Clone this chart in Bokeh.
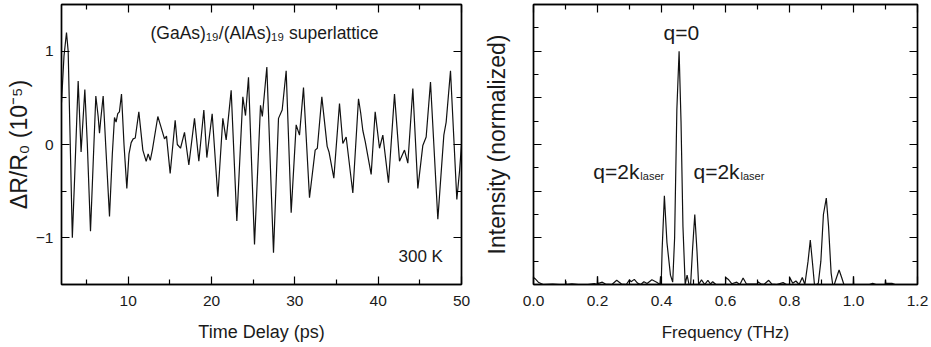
from bokeh.plotting import figure
from bokeh.models import Range1d, LinearAxis, FixedTicker, Label, CustomLabelingPolicy
from bokeh.layouts import row
from bokeh.embed import file_html
from bokeh.resources import INLINE

# ---------------- data ----------------
time_ps = [2.0, 2.3, 2.6, 2.8, 3.0, 3.3, 3.6, 4.0, 4.35, 4.8, 5.1, 5.48, 5.8, 6.12, 6.4,
           6.56, 6.7, 7.0, 7.3, 7.76, 8.1, 8.36, 8.55, 8.75, 8.95, 9.2, 9.5, 9.84, 10.1,
           10.36, 10.6, 10.85, 11.28, 11.76, 12.16, 12.4, 12.65, 12.9, 13.56, 13.9, 14.36,
           14.6, 15.04, 15.64, 15.9, 16.28, 16.76, 17.28, 17.96, 18.48, 19.08, 19.44, 20.08,
           20.76, 21.36, 21.76, 22.36, 23.04, 23.76, 24.08, 24.44, 25.16, 25.88, 26.1, 26.64,
           27.44, 28.04, 28.48, 28.96, 29.56, 30.16, 30.56, 31.04, 31.76, 32.44, 32.7, 33.24,
           33.88, 34.1, 34.68, 35.36, 35.76, 36.16, 36.96, 37.64, 37.9, 38.16, 38.45, 39.16,
           39.64, 40.16, 40.56, 41.24, 41.96, 42.56, 43.16, 43.56, 44.16, 44.76, 45.36, 45.76,
           46.28, 47.16, 47.88, 48.16, 48.68, 49.44, 49.76, 50.0]
dr_r = [0.45, 0.95, 1.2, 1.0, 0.2, -1.0, -0.3, 0.68, -0.08, 0.59, 0.0, -0.93, -0.2, 0.52, 0.3,
        0.12, 0.26, 0.52, 0.0, -0.77, -0.1, 0.29, 0.24, 0.33, 0.35, 0.54, 0.0, -0.47, -0.1,
        0.02, 0.06, 0.07, 0.35, -0.06, -0.18, -0.1, -0.17, -0.06, 0.3, 0.2, 0.06,
        0.09, -0.31, 0.26, 0.0, -0.04, 0.13, -0.22, 0.28, -0.18, 0.37, -0.14, 0.33,
        -0.56, 0.28, 0.05, 0.58, -0.82, 0.51, 0.31, 0.72, -1.07, 0.42, 0.3, 0.83,
        -1.16, 0.28, 0.37, 0.79, -0.73, 0.21, 0.1, 0.61, -0.57, -0.06, -0.04, 0.51,
        -0.02, -0.08, -0.36, 0.44, 0.01, 0.08, -0.52, 0.49, 0.34, 0.15, 0.03, -0.32,
        0.35, -0.04, 0.1, -0.41, 0.54, -0.18, -0.06, -0.2, 0.6, -0.47, -0.01, 0.08,
        0.67, -0.8, 0.1, 0.24, 0.79, -0.59, -0.29, 0.0]

freq_thz = [0.0, 0.005, 0.015, 0.03, 0.06, 0.08, 0.1, 0.101, 0.102, 0.12, 0.14, 0.17, 0.19,
            0.199, 0.2, 0.201, 0.215, 0.225, 0.245, 0.26, 0.275, 0.29, 0.3, 0.305, 0.315,
            0.325, 0.335, 0.345, 0.355, 0.37, 0.385, 0.395, 0.397, 0.399, 0.402, 0.409,
            0.417, 0.428, 0.435, 0.441, 0.448, 0.455, 0.461, 0.467, 0.474, 0.48, 0.486,
            0.491, 0.497, 0.504, 0.511, 0.516, 0.525, 0.535, 0.545, 0.553, 0.56, 0.57,
            0.59, 0.6, 0.601, 0.61, 0.62, 0.635, 0.645, 0.655, 0.665, 0.68, 0.7, 0.701,
            0.71, 0.72, 0.735, 0.745, 0.76, 0.78, 0.79, 0.8, 0.801, 0.81, 0.82, 0.83, 0.84,
            0.848, 0.858, 0.865, 0.872, 0.878, 0.885, 0.89, 0.898, 0.906, 0.915, 0.922,
            0.93, 0.935, 0.94, 0.947, 0.955, 0.963, 0.97, 0.999, 1.0, 1.001, 1.05, 1.06,
            1.07, 1.099, 1.1, 1.101, 1.12, 1.13, 1.2]
intensity = [0.03, 0.025, 0.01, 0.0, 0.002, 0.0, 0.0, 0.015, 0.0, 0.003, 0.0, 0.0, 0.004,
             0.0, 0.035, 0.004, 0.01, 0.002, 0.0, 0.018, 0.002, 0.0, 0.02, 0.012, 0.022,
             0.006, 0.0, 0.012, 0.004, 0.02, 0.01, 0.0, 0.035, 0.0, 0.15, 0.38,
             0.18, 0.04, 0.01, 0.2, 0.75, 1.0, 0.7, 0.25, 0.0, 0.04, 0.0,
             0.0, 0.15, 0.30, 0.14, 0.0, 0.02, 0.0, 0.018, 0.002, 0.012, 0.0,
             0.0, 0.0, 0.03, 0.02, 0.003, 0.01, 0.0, 0.028, 0.003, 0.002, 0.003, 0.012,
             0.003, 0.0, 0.018, 0.002, 0.0, 0.008, 0.0, 0.0, 0.03, 0.005, 0.015, 0.0, 0.03,
             0.0, 0.1, 0.19, 0.09, 0.0, 0.0, 0.005, 0.1, 0.3, 0.37, 0.25,
             0.05, 0.0, 0.0, 0.03, 0.062, 0.03, 0.0, 0.0, 0.035, 0.0, 0.0, 0.005,
             0.0, 0.0, 0.02, 0.005, 0.005, 0.0, 0.0]

left_x_ticks = [10, 20, 30, 40, 50]
left_x_minor = [5, 15, 25, 35, 45]
left_y_ticks = [-1, 0, 1]
left_y_minor = [-1.5, -0.5, 0.5, 1.5]
right_x_ticks = [0.0, 0.2, 0.4, 0.6, 0.8, 1.0, 1.2]
right_x_labels = ["0.0", "0.2", "0.4", "0.6", "0.8", "1.0", "1.2"]
right_x_minor = [0.1, 0.3, 0.5, 0.7, 0.9, 1.1]
right_y_ticks = [0.0, 0.2, 0.4, 0.6, 0.8, 1.0, 1.2]
right_y_minor = [0.1, 0.3, 0.5, 0.7, 0.9, 1.1]

FONT = "Liberation Sans"
TXT = "#1a1a1a"

NO_LABELS = """
const ids = [...indices]
for (const i of ids) { indices.unset(i) }
return indices
"""


def style_axis(ax, show_labels=True, tick_size="15.5px", standoff=7):
    ax.axis_line_color = "black"
    ax.axis_line_width = 1.4
    ax.major_tick_line_color = "black"
    ax.minor_tick_line_color = "black"
    ax.major_tick_line_width = 1.2
    ax.minor_tick_line_width = 1.2
    ax.major_tick_in = 8
    ax.major_tick_out = 0
    ax.minor_tick_in = 5
    ax.minor_tick_out = 0
    ax.major_label_text_font = FONT
    ax.major_label_text_color = TXT
    if show_labels:
        ax.major_label_text_font_size = tick_size
        ax.major_label_standoff = standoff
    else:
        ax.major_label_text_font_size = "1px"
        ax.major_label_standoff = 0
        ax.major_label_policy = CustomLabelingPolicy(code=NO_LABELS)
    ax.axis_label_text_font = FONT
    ax.axis_label_text_font_style = "normal"
    ax.axis_label_text_color = TXT


def mirror(p, xt, yt):
    top = LinearAxis(ticker=xt)
    style_axis(top, show_labels=False)
    p.add_layout(top, "above")
    right = LinearAxis(ticker=yt)
    style_axis(right, show_labels=False)
    p.add_layout(right, "right")


# ---------------- left panel ----------------
p1 = figure(width=472, height=347, output_backend="svg", toolbar_location=None,
            x_range=Range1d(2, 50), y_range=Range1d(-1.5, 1.5),
            min_border_left=61, min_border_right=11, min_border_top=2, min_border_bottom=63)
p1.grid.visible = False
p1.outline_line_color = "black"
p1.outline_line_width = 1.4
p1.background_fill_color = "white"
p1.border_fill_color = "white"

xt1 = FixedTicker(ticks=left_x_ticks, minor_ticks=left_x_minor)
yt1 = FixedTicker(ticks=left_y_ticks, minor_ticks=left_y_minor)
p1.xaxis.ticker = xt1
p1.yaxis.ticker = yt1
for ax in p1.xaxis:
    style_axis(ax, standoff=11)
for ax in p1.yaxis:
    style_axis(ax, standoff=8)
p1.xaxis.axis_label = "Time Delay (ps)"
p1.xaxis.axis_label_text_font_size = "18px"
p1.xaxis.axis_label_standoff = 13
p1.yaxis.axis_label = "ΔR/R₀ (10⁻⁵)"
p1.yaxis.axis_label_text_font_size = "23px"
p1.yaxis.axis_label_standoff = 1
mirror(p1, xt1, yt1)

p1.line(time_ps, dr_r, line_color="#111111", line_width=1.2)

p1.add_layout(Label(x=12.68, y=1.19, text="(GaAs)₁₉/(AlAs)₁₉ superlattice", text_font=FONT,
                    text_font_size="17.5px", text_color=TXT, text_baseline="alphabetic",
                    text_align="left"))
p1.add_layout(Label(x=42.44, y=-1.205, text="300 K", text_font=FONT, text_font_size="17px",
                    text_color=TXT, text_baseline="alphabetic", text_align="left"))

# ---------------- right panel ----------------
p2 = figure(width=459, height=347, output_backend="svg", toolbar_location=None,
            x_range=Range1d(0, 1.2), y_range=Range1d(0, 1.2),
            min_border_left=61, min_border_right=14, min_border_top=2, min_border_bottom=63)
p2.grid.visible = False
p2.outline_line_color = "black"
p2.outline_line_width = 1.4
p2.background_fill_color = "white"
p2.border_fill_color = "white"

xt2 = FixedTicker(ticks=right_x_ticks, minor_ticks=right_x_minor)
yt2 = FixedTicker(ticks=right_y_ticks, minor_ticks=right_y_minor)
p2.xaxis.ticker = xt2
p2.yaxis.ticker = yt2
for ax in p2.xaxis:
    style_axis(ax, standoff=11)
    ax.major_label_overrides = dict(zip(right_x_ticks, right_x_labels))
for ax in p2.yaxis:
    style_axis(ax, show_labels=False)
p2.xaxis.axis_label = "Frequency (THz)"
p2.xaxis.axis_label_text_font_size = "17px"
p2.xaxis.axis_label_standoff = 14
p2.yaxis.axis_label = "Intensity (normalized)"
p2.yaxis.axis_label_text_font_size = "23px"
p2.yaxis.axis_label_standoff = 19
mirror(p2, xt2, yt2)

p2.line(freq_thz, intensity, line_color="#111111", line_width=1.2)

p2.add_layout(Label(x=0.462, y=1.081, text="q=0", text_font=FONT, text_font_size="21px",
                    text_color=TXT, text_baseline="alphabetic", text_align="center"))
for x0 in (0.187, 0.5):
    p2.add_layout(Label(x=x0, y=0.483, text="q=2k", text_font=FONT, text_font_size="21px",
                        text_color=TXT, text_baseline="alphabetic", text_align="left"))
    p2.add_layout(Label(x=x0, y=0.466, x_offset=47, text="laser", text_font=FONT,
                        text_font_size="11px", text_color=TXT, text_baseline="alphabetic",
                        text_align="left"))

layout = row(p1, p2)
open("out.html", "w").write(file_html(layout, INLINE))
